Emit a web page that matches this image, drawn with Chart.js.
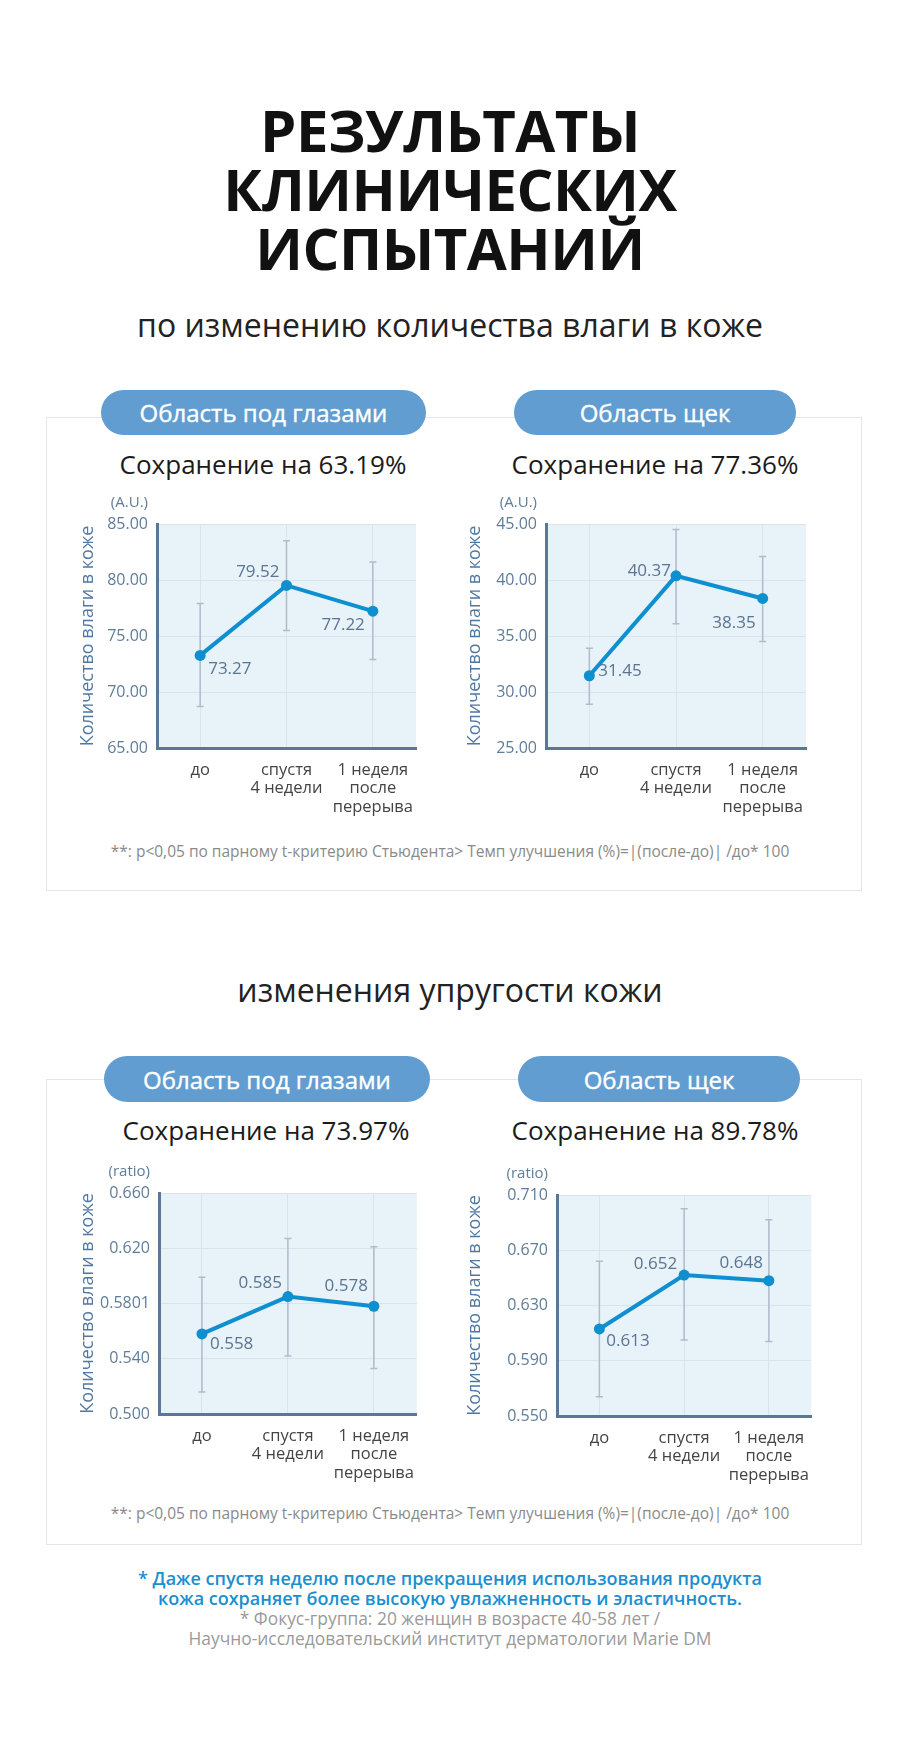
<!DOCTYPE html>
<html lang="ru">
<head>
<meta charset="utf-8">
<title>Результаты клинических испытаний</title>
<script src="https://cdn.jsdelivr.net/npm/chart.js@4/dist/chart.umd.min.js"></script>
<style>
	html, body { margin: 0; padding: 0; background: #fff; }
	body { width: 900px; height: 1738px; position: relative; overflow: hidden; font-family: 'Open Sans', 'Noto Sans', sans-serif; }
	.abs { position: absolute; }
	.center { left: 0; width: 900px; text-align: center; }
	.main-title { top: 100px; font-size: 58px; line-height: 59px; font-weight: 700; color: #111; letter-spacing: -0.5px; }
	.sub { font-size: 32px; line-height: 40px; color: #222; }
	.panel { border: 1px solid #e6e6e6; background: #fff; box-sizing: border-box; }
	.pill { background: #619dd1; color: #fff; border-radius: 23px; font-size: 24px; font-weight: 500; -webkit-text-stroke: 0.4px #fff; text-align: center; display: flex; align-items: center; justify-content: center; z-index: 2; }
	.ctitle { font-size: 26px; line-height: 30px; color: #1b1b1b; text-align: center; width: 360px; }
	.note { font-size: 15.5px; line-height: 20px; color: #8a8a8a; }
	.foot-blue { font-size: 18px; line-height: 20px; color: #1a8fd0; font-weight: 600; }
	.foot-gray { font-size: 17.4px; line-height: 20px; color: #9a9a9a; }
	canvas.chart { position: absolute; z-index: 3; }
</style>
</head>
<body>

<div class="abs center main-title">РЕЗУЛЬТАТЫ<br>КЛИНИЧЕСКИХ<br>ИСПЫТАНИЙ</div>
<div class="abs center sub" style="top:305px;">по изменению количества влаги в коже</div>

<div class="abs panel" style="left:46px; top:417px; width:816px; height:474px;"></div>
<div class="abs pill" style="left:101px; top:390px; width:325px; height:45px;">Область под глазами</div>
<div class="abs pill" style="left:514px; top:390px; width:282px; height:45px;">Область щек</div>
<div class="abs ctitle" style="left:83px; top:449px;">Сохранение на 63.19%</div>
<div class="abs ctitle" style="left:475px; top:449px;">Сохранение на 77.36%</div>
<div class="abs center note" style="top:841px;">**: p&lt;0,05 по парному t-критерию Стьюдента&gt; Темп улучшения (%)=|(после-до)| /до* 100</div>

<div class="abs center sub" style="top:970px;">изменения упругости кожи</div>

<div class="abs panel" style="left:46px; top:1079px; width:816px; height:466px;"></div>
<div class="abs pill" style="left:104px; top:1056px; width:326px; height:46px;">Область под глазами</div>
<div class="abs pill" style="left:518px; top:1056px; width:282px; height:46px;">Область щек</div>
<div class="abs ctitle" style="left:86px; top:1115px;">Сохранение на 73.97%</div>
<div class="abs ctitle" style="left:475px; top:1115px;">Сохранение на 89.78%</div>
<div class="abs center note" style="top:1503px;">**: p&lt;0,05 по парному t-критерию Стьюдента&gt; Темп улучшения (%)=|(после-до)| /до* 100</div>

<div class="abs center foot-blue" style="top:1568px;">* Даже спустя неделю после прекращения использования продукта<br>кожа сохраняет более высокую увлажненность и эластичность.</div>
<div class="abs center foot-gray" style="top:1608px;">* Фокус-группа: 20 женщин в возрасте 40-58 лет /<br>Научно-исследовательский институт дерматологии Marie DM</div>

<canvas id="moistureEye" class="chart"></canvas>
<canvas id="moistureCheek" class="chart"></canvas>
<canvas id="elasticEye" class="chart"></canvas>
<canvas id="elasticCheek" class="chart"></canvas>

<script>
// categories (x axis)
const categories = [['до'], ['спустя', '4 недели'], ['1 неделя', 'после', 'перерыва']];
const axisTitle = 'Количество влаги в коже';

// moisture, under eyes (A.U.)
const moistureEyeValues = [73.27, 79.52, 77.22];
const moistureEyeErrLow = [68.7, 75.5, 72.9];
const moistureEyeErrHigh = [77.9, 83.5, 81.6];
const moistureEyeTicks = [65, 70, 75, 80, 85];
const moistureEyeTickLabels = ['65.00', '70.00', '75.00', '80.00', '85.00'];

// moisture, cheeks (A.U.)
const moistureCheekValues = [31.45, 40.37, 38.35];
const moistureCheekErrLow = [28.9, 36.1, 34.5];
const moistureCheekErrHigh = [33.9, 44.5, 42.1];
const moistureCheekTicks = [25, 30, 35, 40, 45];
const moistureCheekTickLabels = ['25.00', '30.00', '35.00', '40.00', '45.00'];

// elasticity, under eyes (ratio)
const elasticEyeValues = [0.558, 0.585, 0.578];
const elasticEyeErrLow = [0.516, 0.542, 0.533];
const elasticEyeErrHigh = [0.599, 0.627, 0.621];
const elasticEyeTicks = [0.5, 0.54, 0.58, 0.62, 0.66];
const elasticEyeTickLabels = ['0.500', '0.540', '0.5801', '0.620', '0.660'];

// elasticity, cheeks (ratio)
const elasticCheekValues = [0.613, 0.652, 0.648];
const elasticCheekErrLow = [0.564, 0.605, 0.604];
const elasticCheekErrHigh = [0.662, 0.700, 0.692];
const elasticCheekTicks = [0.55, 0.59, 0.63, 0.67, 0.71];
const elasticCheekTickLabels = ['0.550', '0.590', '0.630', '0.670', '0.710'];

const LINE_COLOR = '#0e8fcf';
const TICK_COLOR = '#5f7d99';
const AXIS_COLOR = '#5a7896';
const FONT = "'Open Sans', 'Noto Sans', sans-serif";

// plot area fills light blue
const plotBackground = {
	id: 'plotBackground',
	beforeDraw (chart) {
		const { ctx, chartArea: a } = chart;
		ctx.save();
		ctx.fillStyle = '#e7f2f9';
		ctx.fillRect(a.left, a.top, a.right - a.left, a.bottom - a.top);
		ctx.restore();
	}
};

// vertical error bars with caps, from the low/high arrays
const errorBars = {
	id: 'errorBars',
	beforeDatasetsDraw (chart, args, opts) {
		const { ctx, scales } = chart;
		ctx.save();
		ctx.strokeStyle = '#aebccb';
		ctx.lineWidth = 1.5;
		opts.low.forEach((lo, i) => {
			const x = scales.x.getPixelForValue(i);
			const y1 = scales.y.getPixelForValue(lo);
			const y2 = scales.y.getPixelForValue(opts.high[i]);
			ctx.beginPath();
			ctx.moveTo(x, y1); ctx.lineTo(x, y2);
			ctx.moveTo(x - 3.5, y1); ctx.lineTo(x + 3.5, y1);
			ctx.moveTo(x - 3.5, y2); ctx.lineTo(x + 3.5, y2);
			ctx.stroke();
		});
		ctx.restore();
	}
};

// value labels next to points, and unit label over the y axis
const valueLabels = {
	id: 'valueLabels',
	afterDatasetsDraw (chart, args, opts) {
		const { ctx, chartArea } = chart;
		const meta = chart.getDatasetMeta(0);
		ctx.save();
		ctx.font = '17px ' + FONT;
		ctx.fillStyle = '#5b7490';
		ctx.textBaseline = 'middle';
		meta.data.forEach((pt, i) => {
			const p = opts.place[i];
			ctx.textAlign = p[0];
			ctx.fillText(opts.text[i], pt.x + p[1], pt.y + p[2]);
		});
		ctx.font = '15px ' + FONT;
		ctx.fillStyle = TICK_COLOR;
		ctx.textAlign = 'right';
		ctx.fillText(opts.unit, chartArea.left - 9, chartArea.top - 21);
		ctx.restore();
	}
};

function makeChart (id, cfg) {
	const padL = 110, padT = 50, padR = 12, padB = 82;
	const canvas = document.getElementById(id);
	const left = cfg.area[0] - padL;
	const top = cfg.area[1] - padT;
	canvas.width = cfg.area[2] - left + padR;
	canvas.height = cfg.area[3] - top + padB;
	canvas.style.left = left + 'px';
	canvas.style.top = top + 'px';

	return new Chart(canvas, {
		type: 'line',
		data: {
			labels: categories,
			datasets: [{
				data: cfg.values,
				borderColor: LINE_COLOR,
				backgroundColor: LINE_COLOR,
				borderWidth: 4,
				pointRadius: 5.5,
				pointBackgroundColor: LINE_COLOR,
				pointBorderWidth: 0,
				tension: 0
			}]
		},
		options: {
			responsive: false,
			animation: false,
			layout: { padding: { top: padT, right: padR, left: 0, bottom: 0 } },
			plugins: {
				legend: { display: false },
				tooltip: { enabled: false },
				errorBars: { low: cfg.low, high: cfg.high },
				valueLabels: { text: cfg.text, place: cfg.place, unit: cfg.unit }
			},
			scales: {
				x: {
					offset: true,
					grid: { color: '#dbe3ea', lineWidth: 1, drawTicks: false, offset: false },
					border: { color: AXIS_COLOR, width: 3 },
					ticks: { color: '#444', padding: 13, font: { family: FONT, size: 16.5, lineHeight: 1.12 }, maxRotation: 0, autoSkip: false },
					afterFit (s) { s.height = padB; }
				},
				y: {
					min: cfg.ticks[0],
					max: cfg.ticks[cfg.ticks.length - 1],
					grid: { color: '#dbe3ea', lineWidth: 1, drawTicks: false },
					border: { color: AXIS_COLOR, width: 3 },
					ticks: {
						color: TICK_COLOR,
						padding: 9,
						font: { family: FONT, size: 16 },
						callback: (v, i) => cfg.tickLabels[i]
					},
					afterBuildTicks (s) { s.ticks = cfg.ticks.map((v) => ({ value: v })); },
					title: {
						display: true,
						text: axisTitle,
						color: '#4f78a3',
						font: { family: FONT, size: 18, lineHeight: 1.2 },
						padding: { top: cfg.titleX - left - 10.8, bottom: 0 }
					},
					afterFit (s) { s.width = padL; }
				}
			}
		},
		plugins: [plotBackground, errorBars, valueLabels]
	});
}

makeChart('moistureEye', {
	area: [157, 524, 416, 748],
	values: moistureEyeValues, low: moistureEyeErrLow, high: moistureEyeErrHigh,
	ticks: moistureEyeTicks, tickLabels: moistureEyeTickLabels,
	text: moistureEyeValues.map((v) => v.toFixed(2)),
	place: [['left', 8, 14], ['right', -7, -13], ['right', -8, 14]],
	unit: '(A.U.)', titleX: 88
});

makeChart('moistureCheek', {
	area: [546, 524, 806, 748],
	values: moistureCheekValues, low: moistureCheekErrLow, high: moistureCheekErrHigh,
	ticks: moistureCheekTicks, tickLabels: moistureCheekTickLabels,
	text: moistureCheekValues.map((v) => v.toFixed(2)),
	place: [['left', 9, -5], ['right', -5, -5], ['right', -7, 25]],
	unit: '(A.U.)', titleX: 475
});

makeChart('elasticEye', {
	area: [159, 1193, 417, 1414],
	values: elasticEyeValues, low: elasticEyeErrLow, high: elasticEyeErrHigh,
	ticks: elasticEyeTicks, tickLabels: elasticEyeTickLabels,
	text: elasticEyeValues.map((v) => v.toFixed(3)),
	place: [['left', 8, 10], ['right', -6, -13], ['right', -6, -20]],
	unit: '(ratio)', titleX: 88
});

makeChart('elasticCheek', {
	area: [557, 1195, 812, 1416],
	values: elasticCheekValues, low: elasticCheekErrLow, high: elasticCheekErrHigh,
	ticks: elasticCheekTicks, tickLabels: elasticCheekTickLabels,
	text: elasticCheekValues.map((v) => v.toFixed(3)),
	place: [['left', 7, 12], ['right', -7, -11], ['right', -6, -17]],
	unit: '(ratio)', titleX: 475
});
</script>
</body>
</html>
